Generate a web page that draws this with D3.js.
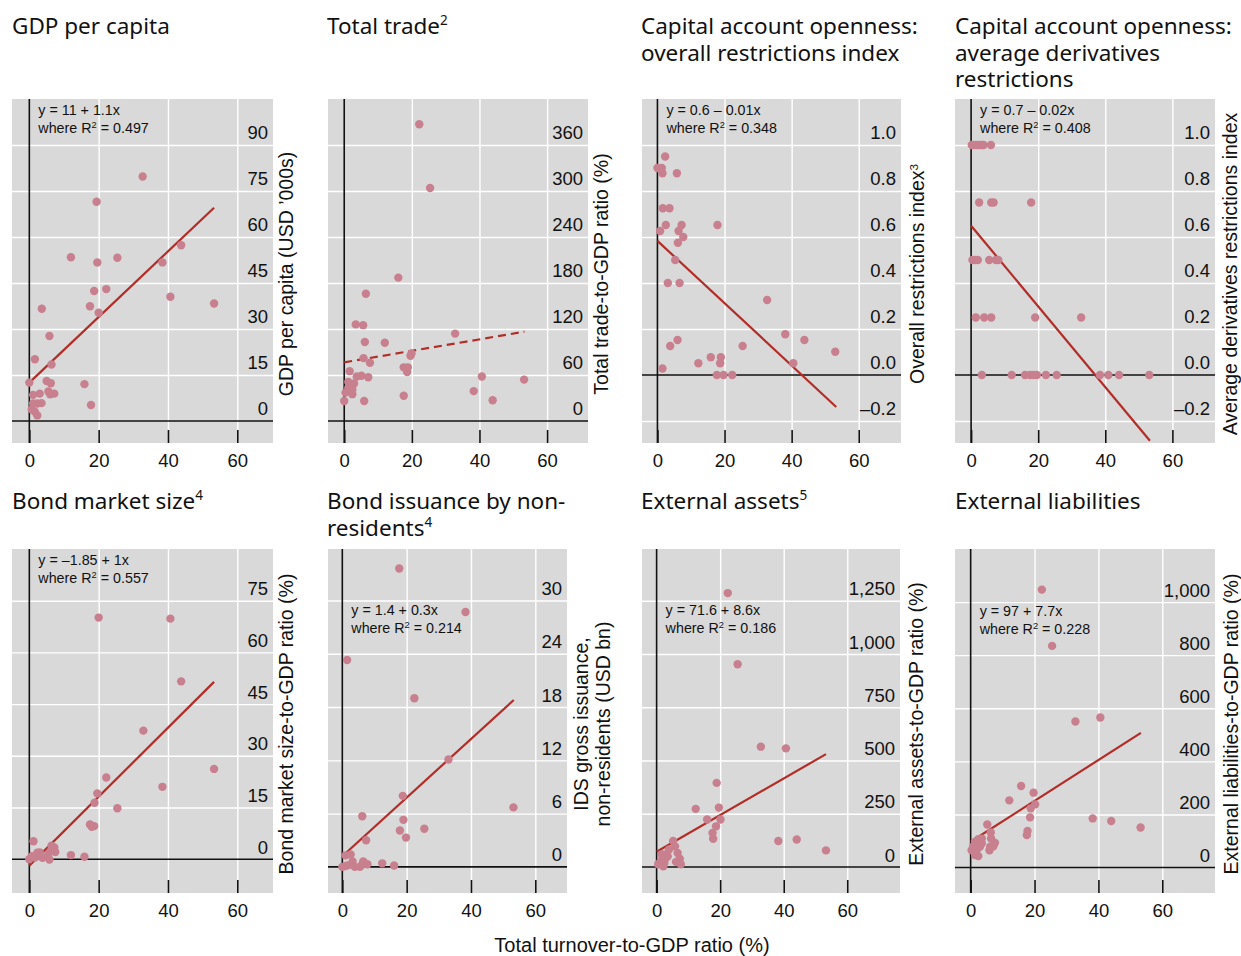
<!DOCTYPE html>
<html>
<head>
<meta charset="utf-8">
<script src="https://cdn.jsdelivr.net/npm/d3@7/dist/d3.min.js"></script>
<style>
  body { margin: 0; background: #fff; }
  svg text { font-family: "Liberation Sans", Arial, sans-serif; fill: #111; }
  svg text.title { font-family: "Noto Sans", sans-serif; font-size: 22.5px; }
  svg text.tick-label { font-size: 18.5px; }
  svg text.y-title { font-size: 19.5px; }
  svg text.x-title { font-size: 20px; }
  svg text.eq { font-size: 14.3px; }
</style>
</head>
<body>
<svg id="chart" width="1241" height="956"></svg>
<script>
// x = total turnover-to-GDP ratio (%), y = panel variable
const gdpPerCapita = [
  [32.7, 79.7], [19.4, 71.5], [12.0, 53.4], [19.6, 51.7], [25.4, 53.2], [38.4, 51.7], [43.8, 57.3],
  [22.2, 43.0], [18.7, 42.4], [40.7, 40.5], [53.3, 38.3], [17.5, 37.4], [20.0, 35.3], [3.6, 36.6],
  [5.8, 27.7], [1.6, 20.1], [6.4, 18.4], [0, 12.5], [5.0, 13.0], [6.2, 12.3], [15.9, 12.0],
  [1.1, 8.5], [3.0, 8.9], [5.5, 9.6], [6.0, 8.7], [7.2, 8.9], [1.1, 5.7], [2.3, 5.7], [3.5, 5.8],
  [17.8, 5.2], [0.7, 3.8], [1.6, 3.0], [2.3, 1.8]
];
const totalTrade = [
  [22.2, 387], [25.4, 304], [16.0, 187], [6.4, 166], [3.4, 126], [5.6, 125], [6.1, 103], [12.0, 102],
  [32.8, 114], [5.7, 82], [7.6, 76], [19.9, 88], [19.6, 85], [17.6, 70], [18.8, 70], [18.6, 64],
  [1.6, 65], [5.1, 59], [3.7, 58], [7.1, 57], [40.7, 58], [53.2, 54], [1.2, 51], [1.7, 47], [2.9, 49],
  [1.2, 43], [2.4, 41], [0.4, 37], [2.4, 35], [17.6, 33], [38.3, 39], [5.9, 26], [0, 26], [43.9, 27]
];
const overallRestrictions = [
  [2.3, 0.95], [0, 0.90], [1.3, 0.90], [1.5, 0.877], [5.8, 0.877], [1.6, 0.725], [3.6, 0.725],
  [2.5, 0.652], [7.2, 0.652], [17.9, 0.652], [0.8, 0.626], [6.3, 0.626], [7.7, 0.60], [6.1, 0.575],
  [5.3, 0.50], [3.1, 0.40], [6.6, 0.40], [32.7, 0.326], [38.1, 0.177], [43.8, 0.152], [6.0, 0.152],
  [3.8, 0.126], [25.4, 0.126], [53.0, 0.101], [15.9, 0.077], [18.9, 0.077], [12.2, 0.051],
  [18.7, 0.051], [40.5, 0.051], [1.5, 0.028], [17.7, 0], [19.7, 0], [22.3, 0]
];
const derivativesRestrictions = [
  [0.2, 1], [1.0, 1], [1.7, 1], [2.5, 1], [3.2, 1], [3.7, 1], [5.9, 1],
  [2.4, 0.75], [6.0, 0.75], [6.7, 0.75], [17.9, 0.75],
  [0.4, 0.5], [1.2, 0.5], [2.0, 0.5], [5.4, 0.5], [7.4, 0.5], [8.1, 0.5],
  [1.4, 0.25], [3.9, 0.25], [6.0, 0.25], [19.1, 0.25], [32.8, 0.25],
  [3.2, 0], [12.1, 0], [16.1, 0], [17.6, 0], [18.6, 0], [19.6, 0], [22.3, 0], [25.5, 0],
  [38.4, 0], [40.9, 0], [44.1, 0], [53.1, 0]
];
const bondMarketSize = [
  [20.0, 70.1], [40.7, 69.8], [43.8, 51.6], [32.9, 37.3], [53.3, 26.2], [22.2, 23.7], [38.4, 21.0],
  [19.6, 19.1], [18.8, 16.4], [25.4, 14.8], [17.5, 10.1], [18.0, 9.4], [18.7, 9.6], [1.2, 5.2],
  [6.4, 3.9], [7.2, 3.4], [7.5, 2.1], [2.3, 1.9], [12.0, 1.2], [15.9, 0.7], [5.5, 1.6], [3.1, 1.2],
  [3.8, 0.4], [0.7, 0.9], [0, 0], [1.6, 0.5], [5.8, -0.1], [2.6, 0.9], [6.2, 2.5], [3.0, 2.0]
];
const idsIssuance = [
  [17.7, 33.6], [38.3, 28.7], [1.5, 23.3], [22.4, 19.0], [33.0, 12.1], [18.8, 8.0], [53.2, 6.7],
  [6.2, 5.7], [19.0, 5.3], [25.5, 4.3], [17.9, 4.1], [7.4, 3.0], [19.8, 3.3], [1.0, 1.3], [2.6, 1.4],
  [0, 0], [12.4, 0.4], [16.1, 0.15], [6.5, 0.6], [7.0, 0.4], [7.8, 0.3], [3.2, 0.6], [1.9, 0.2],
  [3.9, 0], [5.5, 0], [1.0, 0.1], [6.0, 0.2]
];
const externalAssets = [
  [22.4, 1286], [25.5, 952], [32.8, 565], [40.7, 557], [18.9, 395], [12.3, 273], [19.6, 279],
  [15.9, 223], [20.1, 223], [18.7, 191], [17.6, 160], [17.8, 133], [38.3, 122], [44.1, 129],
  [53.3, 78], [5.2, 122], [5.8, 97], [3.9, 82], [6.6, 66], [1.6, 60], [3.1, 60], [7.3, 39],
  [6.1, 24], [1.3, 27], [2.4, 19], [7.6, 13], [0.5, 13], [2.1, 3], [3.5, 50], [2.8, 40]
];
const externalLiabilities = [
  [22.3, 1047], [25.5, 835], [32.8, 550], [40.6, 565], [15.8, 307], [19.7, 282], [12.1, 253],
  [20.2, 238], [18.8, 223], [18.6, 189], [38.2, 185], [44.0, 175], [53.2, 151], [17.8, 138],
  [17.6, 122], [5.2, 162], [6.3, 132], [6.4, 109], [3.5, 109], [2.4, 107], [1.4, 97], [7.6, 93],
  [3.5, 91], [7.1, 80], [2.9, 78], [6.1, 78], [0.8, 80], [0.3, 65], [1.9, 65], [5.9, 65],
  [1.4, 47], [2.4, 43]
];

// fitted lines: [intercept, slope], drawn over x range below
const fitLines = [[12.5, 1.07], [76.5, 0.75], [0.583, -0.01355], [0.649, -0.01755],
                  [-1.85, 1.0], [1.2, 0.33], [71.6, 8.6], [97, 7.7]];
const fitRange = [0, 53.3];
const equations = [
  ['y = 11 + 1.1x', '0.497'], null, ['y = 0.6 \u2013 0.01x', '0.348'], ['y = 0.7 \u2013 0.02x', '0.408'],
  ['y = \u20131.85 + 1x', '0.557'], ['y = 1.4 + 0.3x', '0.214'], ['y = 71.6 + 8.6x', '0.186'], ['y = 97 + 7.7x', '0.228']
];

const xTicks = [0, 20, 40, 60];
const yTickSets = [
  [0, 15, 30, 45, 60, 75, 90],
  [0, 60, 120, 180, 240, 300, 360],
  [-0.2, 0, 0.2, 0.4, 0.6, 0.8, 1.0],
  [-0.2, 0, 0.2, 0.4, 0.6, 0.8, 1.0],
  [0, 15, 30, 45, 60, 75],
  [0, 6, 12, 18, 24, 30],
  [0, 250, 500, 750, 1000, 1250],
  [0, 200, 400, 600, 800, 1000]
];
const titles = [
  [['GDP per capita']], [['Total trade', '2']],
  [['Capital account openness:'], ['overall restrictions index']],
  [['Capital account openness:'], ['average derivatives'], ['restrictions']],
  [['Bond market size', '4']], [['Bond issuance by non-'], ['residents', '4']],
  [['External assets', '5']], [['External liabilities']]
];
const yTitles = [
  [['GDP per capita (USD \u2019000s)']], [['Total trade-to-GDP ratio (%)']],
  [['Overall restrictions index', '3']], [['Average derivatives restrictions index']],
  [['Bond market size-to-GDP ratio (%)']], [['IDS gross issuance,'], ['non-residents (USD bn)']],
  [['External assets-to-GDP ratio (%)']], [['External liabilities-to-GDP ratio (%)']]
];
const seriesList = [gdpPerCapita, totalTrade, overallRestrictions, derivativesRestrictions,
                    bondMarketSize, idsIssuance, externalAssets, externalLiabilities];

// layout of each panel
const layout = [
  { l: 12,  r: 273,  t: 99,  b: 443, xd: [-5, 70.3],  yd: [-7.2, 105],   tx: 12,  ty: 34,  yl: 20, eqY: 16 },
  { l: 328, r: 588,  t: 99,  b: 443, xd: [-4.8, 72.1], yd: [-28.7, 420], tx: 327, ty: 34,  yl: 20 },
  { l: 642, r: 901,  t: 99,  b: 443, xd: [-4.6, 72.6], yd: [-0.296, 1.2], tx: 641, ty: 34, yl: 23, eqY: 16 },
  { l: 955, r: 1215, t: 99,  b: 443, xd: [-4.8, 72.7], yd: [-0.296, 1.2], tx: 955, ty: 34, yl: 22, eqY: 16 },
  { l: 12,  r: 273,  t: 549, b: 893, xd: [-5, 70.3],  yd: [-9.8, 90],    tx: 12,  ty: 509, yl: 20, eqY: 16 },
  { l: 328, r: 567,  t: 549, b: 893, xd: [-4.45, 69.85], yd: [-2.94, 35.8], tx: 327, ty: 509, yl: 21, eqY: 66 },
  { l: 642, r: 900,  t: 549, b: 893, xd: [-4.6, 76.6], yd: [-122, 1493],  tx: 641, ty: 509, yl: 23, eqY: 66 },
  { l: 955, r: 1215, t: 549, b: 893, xd: [-4.9, 76.5], yd: [-96, 1200],   tx: 955, ty: 509, yl: 23, eqY: 67 }
];

const bg = '#d9d9d9', pointColor = '#c8808f', lineColor = '#b22d27';

function tickFmt(i) {
  if (i === 2 || i === 3) return v => v.toFixed(1).replace('-', '\u2013');
  if (i >= 6) return d3.format(',');
  return d3.format('d');
}

function addRich(sel, parts) {
  sel.append('tspan').text(parts[0]);
  if (parts[1]) sel.append('tspan').attr('baseline-shift', 'super').attr('font-size', '0.6em').text(parts[1]);
}

// d3 axes put their own font attrs on the group; strip them so the css applies
function plain(a) {
  a.attr('font-family', null).attr('font-size', null);
  a.select('.domain').remove();
}

const svg = d3.select('#chart');

layout.forEach((p, i) => {
  const w = p.r - p.l, h = p.b - p.t;
  const x = d3.scaleLinear().domain(p.xd).range([p.l, p.r]);
  const y = d3.scaleLinear().domain(p.yd).range([p.b, p.t]);
  const g = svg.append('g').attr('class', 'panel');

  g.append('rect').attr('x', p.l).attr('y', p.t).attr('width', w).attr('height', h).attr('fill', bg);

  // horizontal gridlines
  g.append('g').attr('transform', `translate(${p.l},0)`)
    .call(d3.axisLeft(y).tickValues(yTickSets[i].filter(v => v !== 0)).tickSize(-w).tickFormat(''))
    .call(plain)
    .selectAll('line').attr('stroke', '#fff').attr('stroke-width', 1.4);

  // vertical gridlines
  g.append('g').attr('transform', `translate(0,${p.b})`)
    .call(d3.axisBottom(x).tickValues(xTicks.filter(v => v !== 0)).tickSize(-h).tickFormat(''))
    .call(plain)
    .selectAll('line').attr('stroke', '#fff').attr('stroke-width', 1.4);

  // zero lines
  g.append('line').attr('x1', x(0)).attr('x2', x(0)).attr('y1', p.t).attr('y2', p.b)
    .attr('stroke', '#111').attr('stroke-width', 1.6);
  g.append('line').attr('x1', p.l).attr('x2', p.r).attr('y1', y(0)).attr('y2', y(0))
    .attr('stroke', '#111').attr('stroke-width', 1.6);

  // x tick marks (inside, from bottom)
  g.append('g').attr('transform', `translate(0,${p.b})`)
    .call(d3.axisBottom(x).tickValues(xTicks).tickSize(-13).tickFormat(''))
    .call(plain)
    .selectAll('line').attr('stroke', '#111').attr('stroke-width', 1.6);

  // x tick labels
  g.append('g').attr('transform', `translate(0,${p.b})`)
    .call(d3.axisBottom(x).tickValues(xTicks).tickSize(0).tickPadding(11))
    .call(plain)
    .selectAll('text').attr('class', 'tick-label').attr('fill', null);

  // fitted line
  const [a0, b0] = fitLines[i];
  g.append('line')
    .attr('x1', x(fitRange[0])).attr('y1', y(a0 + b0 * fitRange[0]))
    .attr('x2', x(fitRange[1])).attr('y2', y(a0 + b0 * fitRange[1]))
    .attr('stroke', lineColor).attr('stroke-width', 2.2)
    .attr('stroke-dasharray', i === 1 ? '8,5' : null);

  // points
  g.append('g').selectAll('circle').data(seriesList[i]).join('circle')
    .attr('cx', d => x(d[0])).attr('cy', d => y(d[1])).attr('r', 4.2)
    .attr('fill', pointColor);

  // y tick labels, inside plot, right aligned, sitting on gridline
  g.append('g').attr('transform', `translate(${p.r},0)`)
    .call(d3.axisLeft(y).tickValues(yTickSets[i]).tickSize(0).tickPadding(5).tickFormat(tickFmt(i)))
    .call(plain)
    .selectAll('text').attr('class', 'tick-label').attr('fill', null)
    .attr('dy', null).attr('y', -6);

  // equation
  if (equations[i]) {
    const ex = x(0) + 9, ey = p.t + p.eqY;
    g.append('text').attr('class', 'eq').attr('x', ex).attr('y', ey).text(equations[i][0]);
    const t2 = g.append('text').attr('class', 'eq').attr('x', ex).attr('y', ey + 18);
    t2.append('tspan').text('where R');
    t2.append('tspan').attr('baseline-shift', 'super').attr('font-size', '0.65em').text('2');
    t2.append('tspan').text(' = ' + equations[i][1]);
  }

  // panel title
  titles[i].forEach((line, k) => {
    addRich(g.append('text').attr('class', 'title').attr('x', p.tx).attr('y', p.ty + k * 26.5), line);
  });

  // y-axis title (rotated)
  const cy = (p.t + p.b) / 2 + 3;
  yTitles[i].forEach((line, k) => {
    const lx = p.r + p.yl + k * 22;
    addRich(g.append('text').attr('class', 'y-title').attr('text-anchor', 'middle')
      .attr('transform', `translate(${lx},${cy}) rotate(-90)`), line);
  });
});

svg.append('text').attr('class', 'x-title').attr('text-anchor', 'middle')
  .attr('x', 632).attr('y', 952).text('Total turnover-to-GDP ratio (%)');
</script>
</body>
</html>
